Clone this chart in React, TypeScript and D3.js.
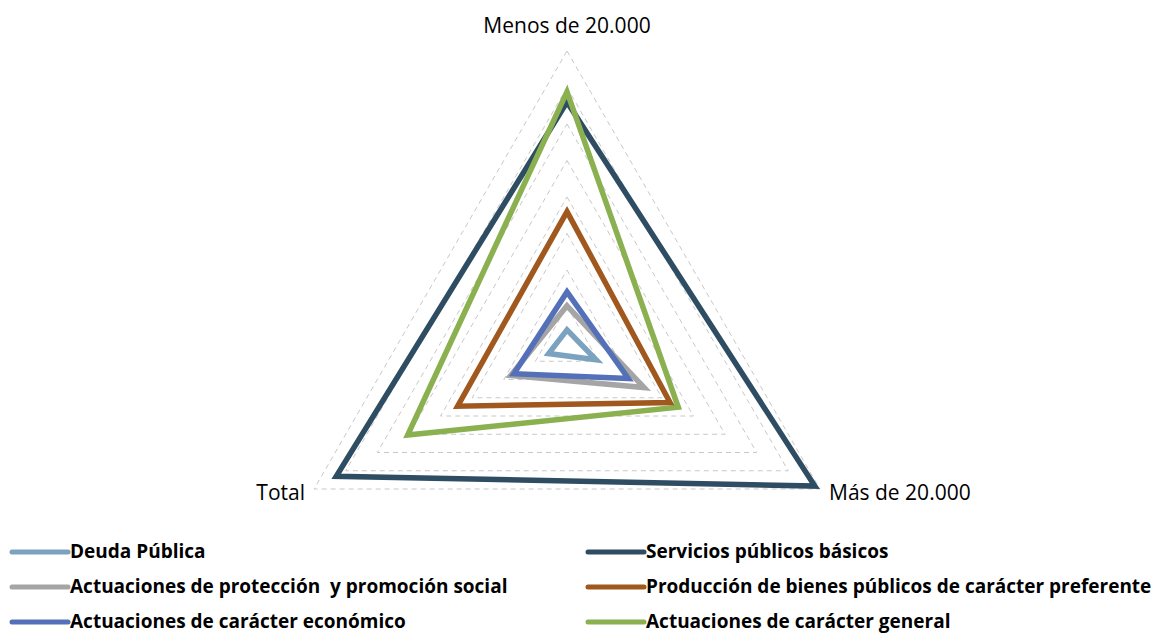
import React, { useRef, useEffect } from "react";
import * as d3 from "d3";

// axes, clockwise from the top
const axes = ["Menos de 20.000", "Más de 20.000", "Total"];

const seriesNames = [
  "Deuda Pública",
  "Servicios públicos básicos",
  "Actuaciones de protección  y promoción social",
  "Producción de bienes públicos de carácter preferente",
  "Actuaciones de carácter económico",
  "Actuaciones de carácter general",
];

const seriesColors = ["#7BA3C0", "#2E4D63", "#A5A5A5", "#A0581E", "#5470B8", "#8AB04F"];

// values per axis (Menos, Más, Total)
const deuda = [1.8, 4.6, 2.9];
const servicios = [33.0, 39.2, 36.5];
const proteccion = [5.1, 12.2, 8.9];
const produccion = [18.0, 16.3, 17.3];
const economico = [7.0, 9.7, 8.4];
const general = [34.4, 17.6, 25.2];

const seriesValues = [deuda, servicios, proteccion, produccion, economico, general];

// drawing order (back to front)
const drawOrder = [1, 5, 3, 2, 4, 0];

const gridLevels = [5, 10, 15, 20, 25, 30, 35, 40];

export default function App() {
  const ref = useRef<SVGSVGElement>(null);

  useEffect(() => {
    const width = 1151;
    const height = 633;
    const cx = 567;
    const cy = 343;
    const R = 292;

    const svg = d3.select(ref.current);
    svg.selectAll("*").remove();
    svg.attr("width", width).attr("height", height);

    const r = d3.scaleLinear().domain([0, 40]).range([0, R]);
    const angle = (i: number) => -Math.PI / 2 + (i * 2 * Math.PI) / axes.length;
    const pt = (v: number, i: number): [number, number] => [
      cx + r(v) * Math.cos(angle(i)),
      cy + r(v) * Math.sin(angle(i)),
    ];

    const line = d3
      .line<[number, number]>()
      .x((d) => d[0])
      .y((d) => d[1])
      .curve(d3.curveLinearClosed);

    // grid
    svg
      .append("g")
      .selectAll("path")
      .data(gridLevels)
      .enter()
      .append("path")
      .attr("d", (lv) => line(axes.map((_, i) => pt(lv, i))))
      .attr("fill", "none")
      .attr("stroke", "#C8C8C8")
      .attr("stroke-width", 1)
      .attr("stroke-dasharray", "5,4");

    // series
    svg
      .append("g")
      .selectAll("path")
      .data(drawOrder)
      .enter()
      .append("path")
      .attr("d", (s) => line(seriesValues[s].map((v, i) => pt(v, i))))
      .attr("fill", "none")
      .attr("stroke", (s) => seriesColors[s])
      .attr("stroke-width", 5.5)
      .attr("stroke-linejoin", "miter");

    // axis labels
    const font = "'Open Sans', 'Noto Sans', sans-serif";
    svg
      .append("text")
      .attr("x", cx)
      .attr("y", 33)
      .attr("text-anchor", "middle")
      .style("font-family", font)
      .style("font-size", "21px")
      .text(axes[0]);
    svg
      .append("text")
      .attr("x", 829)
      .attr("y", 500)
      .style("font-family", font)
      .style("font-size", "21px")
      .text(axes[1]);
    svg
      .append("text")
      .attr("x", 305)
      .attr("y", 500)
      .attr("text-anchor", "end")
      .style("font-family", font)
      .style("font-size", "21px")
      .text(axes[2]);

    // legend
    const legend = svg.append("g");
    seriesNames.forEach((name, s) => {
      const col = s % 2;
      const row = Math.floor(s / 2);
      const x0 = col === 0 ? 12 : 588;
      const y0 = 552 + row * 35;
      legend
        .append("line")
        .attr("x1", x0)
        .attr("x2", x0 + 56)
        .attr("y1", y0)
        .attr("y2", y0)
        .attr("stroke", seriesColors[s])
        .attr("stroke-width", 5)
        .attr("stroke-linecap", "round");
      legend
        .append("text")
        .attr("x", x0 + 58)
        .attr("y", y0 + 6)
        .style("font-family", font)
        .style("font-size", "19px")
        .style("font-weight", "bold")
        .style("white-space", "pre")
        .text(name);
    });
  }, []);

  return <svg ref={ref} style={{ position: "absolute", left: 0, top: 0 }}></svg>;
}
